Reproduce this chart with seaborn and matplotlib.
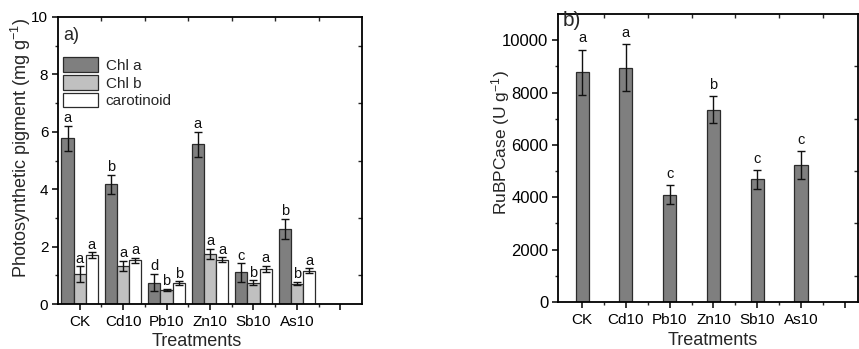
import numpy as np
import pandas as pd
import matplotlib
matplotlib.use("Agg")
import matplotlib.pyplot as plt
import seaborn as sns
from matplotlib.patches import Patch
from matplotlib.ticker import FixedLocator

# ---------------- data ----------------
treatments = ["CK", "Cd10", "Pb10", "Zn10", "Sb10", "As10"]
pigments = ["Chl a", "Chl b", "carotinoid"]

chl_a = [5.77, 4.18, 0.74, 5.56, 1.10, 2.61]
chl_a_err = [0.43, 0.33, 0.30, 0.43, 0.32, 0.36]
chl_a_sig = ["a", "b", "d", "a", "c", "b"]

chl_b = [1.04, 1.33, 0.49, 1.74, 0.74, 0.71]
chl_b_err = [0.27, 0.17, 0.04, 0.17, 0.08, 0.06]
chl_b_sig = ["a", "a", "b", "a", "b", "b"]

carot = [1.71, 1.53, 0.72, 1.54, 1.21, 1.16]
carot_err = [0.09, 0.09, 0.07, 0.09, 0.11, 0.08]
carot_sig = ["a", "a", "b", "a", "a", "a"]

rubp = [8780, 8940, 4100, 7350, 4690, 5240]
rubp_err = [860, 900, 370, 520, 355, 540]
rubp_sig = ["a", "a", "c", "b", "c", "c"]

# ---------------- style ----------------
sns.set_theme(style="ticks")
plt.rcParams["font.family"] = ["Liberation Sans", "DejaVu Sans"]
plt.rcParams["mathtext.fontset"] = "custom"
plt.rcParams["mathtext.rm"] = "Liberation Sans"
plt.rcParams["mathtext.it"] = "Liberation Sans:italic"
plt.rcParams["axes.linewidth"] = 1.3

W, H = 859, 349
fig = plt.figure(figsize=(W / 100, H / 100), dpi=100)

def frac(l, t, r, b):
    return [l / W, 1 - b / H, (r - l) / W, (b - t) / H]

axA = fig.add_axes(frac(58, 17, 362, 304))
axB = fig.add_axes(frac(558, 14, 858, 302))

dark = "#7f7f7f"
light = "#c0c0c0"
white = "#ffffff"
edge = "#2b2b2b"

# ---------------- panel a ----------------
dfA = pd.DataFrame({
    "Treatment": treatments * 3,
    "Pigment": sum([[p] * len(treatments) for p in pigments], []),
    "value": chl_a + chl_b + carot,
})
sns.barplot(data=dfA, x="Treatment", y="value", hue="Pigment", order=treatments,
            hue_order=pigments, palette=[dark, light, white], width=0.84,
            errorbar=None, edgecolor=edge, linewidth=0.9, saturation=1,
            legend=False, ax=axA)

errs = [chl_a_err, chl_b_err, carot_err]
sigs = [chl_a_sig, chl_b_sig, carot_sig]
vals = [chl_a, chl_b, carot]
for cont, v, e, s in zip(axA.containers, vals, errs, sigs):
    xs = [bar.get_x() + bar.get_width() / 2 for bar in cont]
    axA.errorbar(xs, v, yerr=e, fmt="none", ecolor="#111111", elinewidth=1.0,
                 capsize=2.8, capthick=1.0, zorder=5)
    for x, vi, ei, si in zip(xs, v, e, s):
        axA.annotate(si, (x, vi + ei), xytext=(0, 0.5), textcoords="offset points",
                     ha="center", va="bottom", fontsize=10.5, color="#111111")

axA.set_xlim(-0.5, 6.5)
axA.set_ylim(0, 10)
axA.xaxis.set_major_locator(FixedLocator(range(7)))
axA.set_xticklabels(treatments + [""])
axA.xaxis.set_minor_locator(FixedLocator(np.arange(0.5, 6.5, 1.0)))
axA.yaxis.set_major_locator(FixedLocator([0, 2, 4, 6, 8, 10]))
axA.yaxis.set_minor_locator(FixedLocator([1, 3, 5, 7, 9]))
axA.set_xlabel("Treatments", fontsize=13)
axA.set_ylabel("Photosynthetic pigment (mg g$^{-1}$)", fontsize=13)
axA.xaxis.set_label_coords(0.457, -0.10)
axA.yaxis.set_label_coords(-0.082, 0.542)
axA.text(0.016, 0.965, "a)", transform=axA.transAxes, ha="left", va="top", fontsize=13)

handles = [Patch(facecolor=c, edgecolor=edge, linewidth=0.9) for c in [dark, light, white]]
axA.legend(handles, pigments, loc="upper left", bbox_to_anchor=(0.016, 0.86),
           frameon=False, fontsize=11, handlelength=2.3, handleheight=1.1,
           labelspacing=0.15, handletextpad=0.5, borderpad=0, borderaxespad=0)

# ---------------- panel b ----------------
dfB = pd.DataFrame({"Treatment": treatments, "value": rubp})
sns.barplot(data=dfB, x="Treatment", y="value", order=treatments, color=dark,
            width=0.3, errorbar=None, edgecolor=edge, linewidth=0.9, saturation=1,
            ax=axB)
contB = axB.containers[0]
xsB = [bar.get_x() + bar.get_width() / 2 for bar in contB]
axB.errorbar(xsB, rubp, yerr=rubp_err, fmt="none", ecolor="#111111", elinewidth=1.0,
             capsize=2.8, capthick=1.0, zorder=5)
for x, vi, ei, si in zip(xsB, rubp, rubp_err, rubp_sig):
    axB.annotate(si, (x, vi + ei), xytext=(0, 3), textcoords="offset points",
                 ha="center", va="bottom", fontsize=10.5, color="#111111")

axB.set_xlim(-0.55, 6.3)
axB.set_ylim(0, 11000)
axB.xaxis.set_major_locator(FixedLocator(range(7)))
axB.set_xticklabels(treatments + [""])
axB.xaxis.set_minor_locator(FixedLocator(np.arange(0.5, 6.5, 1.0)))
axB.yaxis.set_major_locator(FixedLocator([0, 2000, 4000, 6000, 8000, 10000]))
axB.yaxis.set_minor_locator(FixedLocator([1000, 3000, 5000, 7000, 9000]))
axB.set_xlabel("Treatments", fontsize=13)
axB.set_ylabel("RuBPCase (U g$^{-1}$)", fontsize=12.5)
axB.xaxis.set_label_coords(0.517, -0.105)
axB.yaxis.set_label_coords(-0.152, 0.554)
axB.text(0.017, 1.012, "b)", transform=axB.transAxes, ha="left", va="top", fontsize=15)

for ax in (axA, axB):
    for sp in ax.spines.values():
        sp.set_visible(True)
        sp.set_color("black")
    ax.tick_params(axis="both", which="major", direction="out", length=4, width=1.1,
                   labelsize=11, colors="black", pad=3)
    ax.tick_params(axis="both", which="minor", direction="out", length=2.5, width=1.0)
    ax.tick_params(axis="x", which="major", pad=4)
    secx = ax.secondary_xaxis("top")
    secx.xaxis.set_major_locator(FixedLocator(np.arange(0.5, 6.5, 1.0)))
    secx.tick_params(direction="in", length=3, width=1.0, labeltop=False)
    secx.spines["top"].set_visible(False)
    secy = ax.secondary_yaxis("right")
    secy.yaxis.set_major_locator(FixedLocator(ax.yaxis.get_minorticklocs()))
    secy.tick_params(direction="in", length=3, width=1.0, labelright=False)
    secy.spines["right"].set_visible(False)

axB.tick_params(axis="y", which="major", labelsize=12)

fig.savefig("out.png", dpi=100)
